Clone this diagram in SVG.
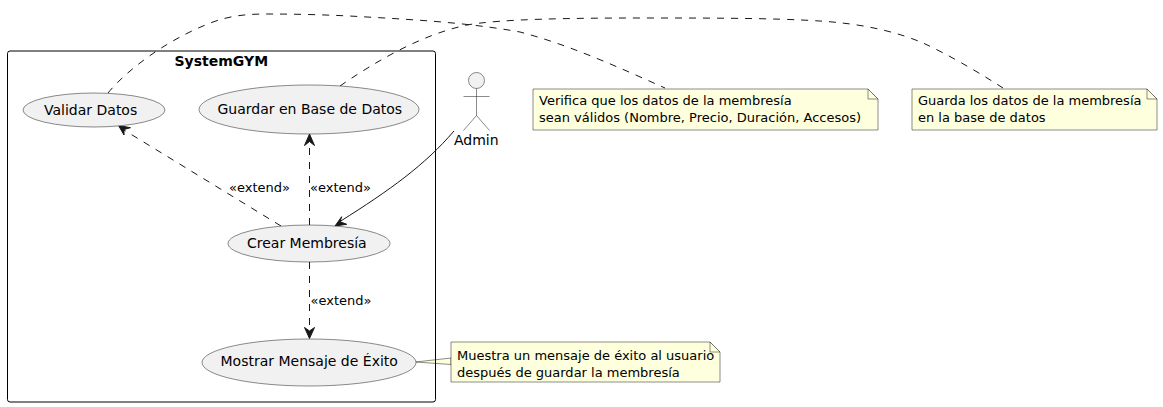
<svg xmlns="http://www.w3.org/2000/svg" width="1163" height="407" viewBox="0 0 1163 407">
<style>
text{font-family:"DejaVu Sans",sans-serif;fill:#000}
.uc{fill:#f1f1f1;stroke:#181818;stroke-width:.5}
.t{font-size:14px}
.n{font-size:13px}
.note{fill:#feffdd;stroke:#181818;stroke-width:.5}
.c{fill:none;stroke:#181818;stroke-width:1}
.d{stroke-dasharray:7,7}
.a{fill:#181818;stroke:#181818;stroke-width:1}
</style>
<path class="note" d="M415.500,362L451,358V364.500Z"/>
<g id="SystemGYM"><rect x="7.500" y="51" width="428" height="351" rx="2.500" fill="none" stroke="#000" stroke-width="1"/><text x="174.500" y="66" font-size="14" font-weight="bold">SystemGYM</text></g>
<g id="connectors">
<path class="c d" d="M108,93C125,72 165,40 213,22C232,15 250,14 267,14C300,14 335,15 367,17C420,20 470,23 520,32C570,45 620,68 665,88"/>
<path class="c d" d="M340,86C375,62 420,35 467,25C500,19 570,18 644,18C720,18 800,18 842,23C870,26 900,33 923,43C945,53 975,70 1003,88"/>
<path class="c d" d="M281,226L124,130"/>
<path class="a" d="M118.500,125.500L130.500,127.700L124,129.500L124,135Z"/>
<path class="c d" d="M309.500,225L309.500,141"/>
<path class="a" d="M309.500,134L314.500,145.500L309.500,141.500L304.500,145.500Z"/>
<path class="c d" d="M309.500,262L309.500,331"/>
<path class="a" d="M309.500,338.500L314.500,327.500L309.500,331L304.500,327.500Z"/>
<path class="c" d="M454,131C425,165 390,190 340,221.500"/>
<path class="a" d="M335,226L341.700,216.700L340,221.700L346.700,224.300Z"/>
</g>
<text class="n" x="229" y="192">«extend»</text>
<text class="n" x="310" y="192">«extend»</text>
<text class="n" x="310.500" y="305">«extend»</text>
<g id="validar"><ellipse class="uc" cx="94" cy="110" rx="71" ry="17"/><text class="t" x="44" y="114.500">Validar Datos</text></g>
<g id="guardar"><ellipse class="uc" cx="309" cy="109.500" rx="110" ry="24.500"/><text class="t" x="217.500" y="114">Guardar en Base de Datos</text></g>
<g id="crear"><ellipse class="uc" cx="309" cy="243.500" rx="81" ry="18.500"/><text class="t" x="247" y="248">Crear Membresía</text></g>
<g id="mostrar"><ellipse class="uc" cx="309" cy="362.500" rx="107" ry="23.500"/><text class="t" x="220.500" y="366">Mostrar Mensaje de Éxito</text></g>
<g id="admin"><g fill="none" stroke="#181818" stroke-width=".5"><circle cx="476.500" cy="80.500" r="8" fill="#f1f1f1"/><path d="M476.500,88.500V115.500M463.500,96.500H489.500M476.500,115.500L463.500,130.500M476.500,115.500L489.500,130.500"/></g><text class="t" x="454" y="145">Admin</text></g>
<g id="note1"><path class="note" d="M533,89H868L878,99V130H533Z"/><path class="note" d="M868,89V99H878Z"/><text class="n" x="539" y="105">Verifica que los datos de la membresía</text><text class="n" x="539" y="122">sean válidos (Nombre, Precio, Duración, Accesos)</text></g>
<g id="note2"><path class="note" d="M912,89H1147L1157,99V130H912Z"/><path class="note" d="M1147,89V99H1157Z"/><text class="n" x="918" y="105">Guarda los datos de la membresía</text><text class="n" x="918" y="122">en la base de datos</text></g>
<g id="note3"><path class="note" d="M451,342H710L720,352V382H451Z"/><path class="note" d="M710,342V352H720Z"/><text class="n" x="457" y="360">Muestra un mensaje de éxito al usuario</text><text class="n" x="457" y="377">después de guardar la membresía</text></g>
</svg>
